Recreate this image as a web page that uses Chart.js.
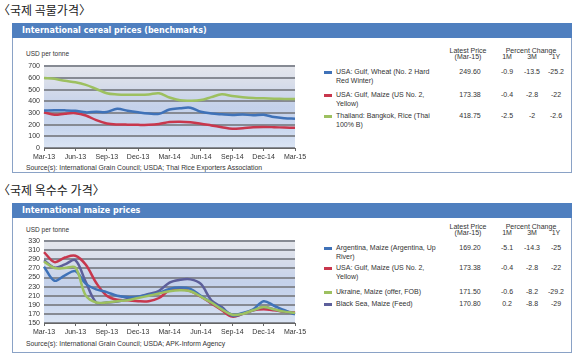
<!DOCTYPE html>
<html><head><meta charset="utf-8">
<script src="https://cdn.jsdelivr.net/npm/chart.js@4/dist/chart.umd.min.js"></script>
<style>
body{margin:0;width:580px;height:362px;background:#fff;position:relative;overflow:hidden;font-family:"Liberation Sans",Arial,sans-serif;color:#333;}
.abs{position:absolute;white-space:pre;}
.ktitle{position:absolute;left:4px;font-family:"Noto Sans CJK KR";font-size:12px;line-height:14px;color:#222;white-space:nowrap;}
.br1{display:inline-block;margin-left:-6px;}
.br2{display:inline-block;margin-right:-6px;}
.hdr{position:absolute;left:12px;width:560px;height:15px;background:#4f7fbf;color:#fff;font:bold 8px "DejaVu Sans";line-height:15px;padding-left:10px;box-sizing:border-box;}
.panel{position:absolute;left:12px;width:560px;border:1px solid #8aa2c6;border-top:none;box-sizing:border-box;}
canvas{position:absolute;}
.small{font-size:6.5px;line-height:8px;}
.leg{font-size:7px;line-height:8.5px;}
.c{transform:translateX(-50%);text-align:center;}
.sw{position:absolute;width:8px;height:3px;}
</style></head>
<body>
<div class="ktitle" style="top:3px"><span class="br1">〈</span>국제 곡물가격<span class="br2">〉</span></div>
<div class="hdr" style="top:23px">International cereal prices (benchmarks)</div>
<div class="panel" style="top:38px;height:135px"></div>
<div class="abs small" style="left:26px;top:50px">USD per tonne</div>
<canvas id="c1" width="296" height="105" style="left:14px;top:58px"></canvas>
<div class="abs" style="left:26px;top:164px;font-size:6.8px;line-height:8px">Source(s): International Grain Council; USDA; Thai Rice Exporters Association</div>
<div id="leg1"></div>

<div class="ktitle" style="top:183px"><span class="br1">〈</span>국제 옥수수 가격<span class="br2">〉</span></div>
<div class="hdr" style="top:203px">International maize prices</div>
<div class="panel" style="top:218px;height:135px"></div>
<div class="abs small" style="left:26px;top:226px">USD per tonne</div>
<canvas id="c2" width="296" height="105" style="left:14px;top:233px"></canvas>
<div class="abs" style="left:26px;top:340px;font-size:6.8px;line-height:8px">Source(s): International Grain Council; USDA; APK-Inform Agency</div>
<div id="leg2"></div>

<script>
const months = ['Mar-13','Apr-13','May-13','Jun-13','Jul-13','Aug-13','Sep-13','Oct-13','Nov-13','Dec-13','Jan-14','Feb-14','Mar-14','Apr-14','May-14','Jun-14','Jul-14','Aug-14','Sep-14','Oct-14','Nov-14','Dec-14','Jan-15','Feb-15','Mar-15'];
const xTickLabels = ['Mar-13','Jun-13','Sep-13','Dec-13','Mar-14','Jun-14','Sep-14','Dec-14','Mar-15'];

// Cereal chart series (USD per tonne)
const wheatUSGulf = [320,322,322,318,305,310,308,335,318,305,295,292,330,340,345,310,295,288,283,287,280,285,265,255,250];
const maizeUSGulf = [306,284,294,298,278,238,210,201,200,198,198,205,222,225,220,208,193,178,164,170,178,180,178,175,173];
const riceThai    = [600,592,575,562,540,505,468,458,455,455,458,468,432,408,405,410,435,460,445,435,428,425,422,420,419];
// Maize chart series
const maizeArgentina = [274,243,255,264,236,224,218,210,207,208,212,216,225,228,225,210,195,182,168,172,180,198,188,178,169];
const maizeUkraine   = [285,271,271,272,210,195,195,198,200,205,210,215,220,222,220,208,195,180,168,170,178,185,180,175,172];
const maizeBlackSea  = [288,272,279,288,240,195,195,197,203,208,214,221,239,245,246,236,200,185,166,170,178,185,180,175,171];

const cerealYTicks = [0,700,100];
const maizeYTicks = [150,330,20];

// Legend tables
const cerealNames  = ['USA: Gulf, Wheat (No. 2 Hard\nRed Winter)','USA: Gulf, Maize (US No. 2,\nYellow)','Thailand: Bangkok, Rice (Thai\n100% B)'];
const cerealLatest = ['249.60','173.38','418.75'];
const cereal1M = ['-0.9','-0.4','-2.5'];
const cereal3M = ['-13.5','-2.8','-2'];
const cereal1Y = ['-25.2','-22','-2.6'];

const maizeNames  = ['Argentina, Maize (Argentina, Up\nRiver)','USA: Gulf, Maize (US No. 2,\nYellow)','Ukraine, Maize (offer, FOB)','Black Sea, Maize (Feed)'];
const maizeLatest = ['169.20','173.38','171.50','170.80'];
const maize1M = ['-5.1','-0.4','-0.6','0.2'];
const maize3M = ['-14.3','-2.8','-8.2','-8.8'];
const maize1Y = ['-25','-22','-29.2','-29'];

const BLUE='#3f72b8', RED='#c8374d', GREEN='#9dc060', PURPLE='#5d5f9b';

const bgPlugin = {id:'bg', beforeDraw(chart){
  const {ctx, chartArea:a} = chart;
  const g = ctx.createLinearGradient(0,a.top,0,a.bottom);
  g.addColorStop(0,'#e4e6ec'); g.addColorStop(0.2,'#d9deea');
  g.addColorStop(0.5,'#c4d1ea'); g.addColorStop(0.75,'#c9d6ee'); g.addColorStop(1,'#dbe5f4');
  ctx.save(); ctx.fillStyle=g; ctx.fillRect(a.left,a.top,a.width,a.height); ctx.restore();
}};

function makeChart(id, datasets, yt){
  new Chart(document.getElementById(id), {
    type:'line',
    data:{labels:months, datasets:datasets.map(d=>({data:d.data,borderColor:d.color,borderWidth:2.5,pointRadius:0,tension:0.35,fill:false}))},
    options:{
      responsive:false, animation:false, devicePixelRatio:1,
      layout:{autoPadding:false, padding:{top:6,right:15,left:0,bottom:0}},
      plugins:{legend:{display:false}, tooltip:{enabled:false}},
      scales:{
        x:{offset:false, afterFit:s=>{s.height=15;},
           grid:{drawOnChartArea:false, tickLength:3, color:'#666', lineWidth:1},
           border:{color:'#666', width:1},
           ticks:{autoSkip:false, maxRotation:0, padding:2, color:'#333', font:{size:7, family:'Liberation Sans'},
             callback:function(v,i){const l=months[i]; return xTickLabels.includes(l)?l:null;}}},
        y:{min:yt[0], max:yt[1], afterFit:s=>{s.width=30;},
           grid:{color:'#868a93', lineWidth:2, drawTicks:false},
           border:{display:false},
           ticks:{stepSize:yt[2], autoSkip:false, padding:4, color:'#333', font:{size:7, family:'Liberation Sans'}}}
      }
    },
    plugins:[bgPlugin]
  });
}

makeChart('c1', [
  {data:riceThai, color:GREEN},
  {data:wheatUSGulf, color:BLUE},
  {data:maizeUSGulf, color:RED}
], cerealYTicks);

makeChart('c2', [
  {data:maizeUkraine, color:GREEN},
  {data:maizeArgentina, color:BLUE},
  {data:maizeBlackSea, color:PURPLE},
  {data:maizeUSGulf, color:RED}
], maizeYTicks);

function legend(elId, hdrTop, rowsTop, names, latest, m1, m3, y1, colors){
  const el = document.getElementById(elId);
  let h = '';
  const t = (x,y,s,cls)=>`<div class="abs leg ${cls||''}" style="left:${x}px;top:${y}px">${s}</div>`;
  h += t(468,hdrTop,'Latest Price','c') + t(468,hdrTop+6,'(Mar-15)','c');
  h += t(531,hdrTop,'Percent Change','c');
  h += t(507,hdrTop+6,'1M','c') + t(532,hdrTop+6,'3M','c') + t(556,hdrTop+6,'1Y','c');
  names.forEach((n,i)=>{
    const y = rowsTop[i];
    h += `<div class="sw" style="left:324px;top:${y+3}px;background:${colors[i]}"></div>`;
    h += t(336,y,n);
    h += t(470,y,latest[i],'c') + t(507,y,m1[i],'c') + t(532,y,m3[i],'c') + t(556,y,y1[i],'c');
  });
  el.innerHTML = h;
}
legend('leg1', 47, [68,91,112], cerealNames, cerealLatest, cereal1M, cereal3M, cereal1Y, [BLUE,RED,GREEN]);
legend('leg2', 223, [244,264,288,300], maizeNames, maizeLatest, maize1M, maize3M, maize1Y, [BLUE,RED,GREEN,PURPLE]);
</script>
</body></html>
